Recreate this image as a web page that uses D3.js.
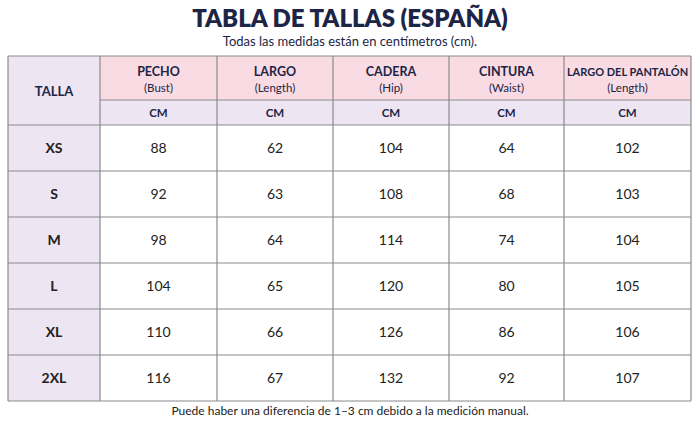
<!DOCTYPE html>
<html><head><meta charset="utf-8">
<script src="https://cdn.jsdelivr.net/npm/d3@7"></script>
<style>body{margin:0;background:#fff}svg{display:block;font-family:Lato,"Open Sans",sans-serif}</style>
</head><body><svg id="c" width="700" height="423"></svg>
<script>
const sizes = ["XS","S","M","L","XL","2XL"];
const columns = ["PECHO","LARGO","CADERA","CINTURA","LARGO DEL PANTALÓN"];
const subLabels = ["(Bust)","(Length)","(Hip)","(Waist)","(Length)"];
const pecho = [88,92,98,104,110,116];
const largo = [62,63,64,65,66,67];
const cadera = [104,108,114,120,126,132];
const cintura = [64,68,74,80,86,92];
const pantalon = [102,103,104,105,106,107];
const series = [pecho,largo,cadera,cintura,pantalon];

const svg = d3.select('#c');
const ink = '#1d2547', line = '#8a8a8a';
const colEdges = [8,100,217,333,449,564,691];
const tableTop = 56, headH = 44, cmH = 25, rowTop = tableTop+headH+cmH, rowH = 46;
const y = d3.scaleBand().domain(sizes).range([rowTop, rowTop+rowH*sizes.length]);
const bottom = rowTop+rowH*sizes.length;

svg.append('text').attr('x',350).attr('y',27).attr('text-anchor','middle')
  .attr('font-size',24).attr('font-weight',800).attr('fill',ink).text('TABLA DE TALLAS (ESPAÑA)');
svg.append('text').attr('x',350).attr('y',46).attr('text-anchor','middle')
  .attr('font-size',13).attr('fill',ink).text('Todas las medidas están en centímetros (cm).');

// backgrounds
svg.append('rect').attr('x',colEdges[0]).attr('y',tableTop).attr('width',colEdges[1]-colEdges[0]).attr('height',bottom-tableTop).attr('fill','#ede5f2');
svg.append('rect').attr('x',colEdges[1]).attr('y',tableTop).attr('width',colEdges[6]-colEdges[1]).attr('height',headH).attr('fill','#f8dbe3');
svg.append('rect').attr('x',colEdges[1]).attr('y',tableTop+headH).attr('width',colEdges[6]-colEdges[1]).attr('height',cmH).attr('fill','#ede5f2');

const g = svg.append('g');
columns.forEach((c,i)=>{
  const cx = (colEdges[i+1]+colEdges[i+2])/2;
  g.append('text').attr('x',cx).attr('y',tableTop+20).attr('text-anchor','middle').attr('font-size',c.length>10?11:12.5).attr('font-weight',700).attr('fill',ink).text(c);
  g.append('text').attr('x',cx).attr('y',tableTop+36).attr('text-anchor','middle').attr('font-size',11.5).attr('fill',ink).text(subLabels[i]);
  g.append('text').attr('x',cx).attr('y',tableTop+headH+17).attr('text-anchor','middle').attr('font-size',11.5).attr('font-weight',700).attr('fill',ink).text('CM');
  g.selectAll(null).data(series[i]).join('text')
    .attr('x',cx).attr('y',(d,j)=>y(sizes[j])+y.bandwidth()/2+5).attr('text-anchor','middle')
    .attr('font-size',14).attr('fill','#222').text(d=>d);
});
g.append('text').attr('x',(colEdges[0]+colEdges[1])/2).attr('y',tableTop+(headH+cmH)/2+5).attr('text-anchor','middle')
  .attr('font-size',13).attr('font-weight',700).attr('fill',ink).text('TALLA');
g.selectAll(null).data(sizes).join('text')
  .attr('x',(colEdges[0]+colEdges[1])/2).attr('y',d=>y(d)+y.bandwidth()/2+5).attr('text-anchor','middle')
  .attr('font-size',14).attr('font-weight',700).attr('fill','#222').text(d=>d);

// grid lines
const hl = [tableTop, tableTop+headH, ...sizes.map(s=>y(s)), bottom];
hl.forEach((v,i)=>svg.append('line').attr('x1',i===1?colEdges[1]:colEdges[0]).attr('x2',colEdges[6]).attr('y1',v).attr('y2',v).attr('stroke',line).attr('stroke-width',1.2));
colEdges.forEach(v=>svg.append('line').attr('x1',v).attr('x2',v).attr('y1',tableTop).attr('y2',bottom).attr('stroke',line).attr('stroke-width',1.2));

svg.append('text').attr('x',350).attr('y',415).attr('text-anchor','middle')
  .attr('font-size',12).attr('fill','#222').text('Puede haber una diferencia de 1–3 cm debido a la medición manual.');
</script></body></html>
